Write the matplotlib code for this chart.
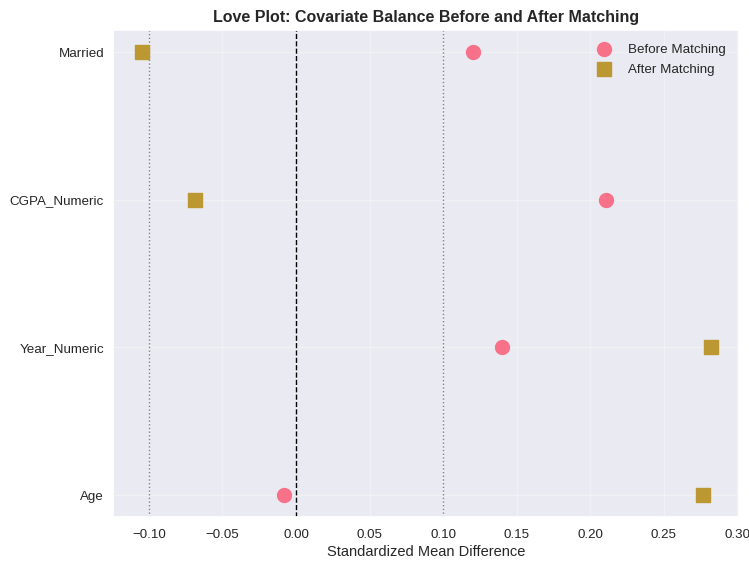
import matplotlib
matplotlib.use('Agg')
import matplotlib.pyplot as plt
import seaborn as sns
import numpy as np

# Standardized mean differences per covariate
covariates = ['Age', 'Year_Numeric', 'CGPA_Numeric', 'Married']
smd_before = [-0.008, 0.140, 0.211, 0.120]
smd_after = [0.277, 0.282, -0.069, -0.105]

sns.set_theme(style='darkgrid')
sns.set_palette('husl')
plt.rcParams['font.family'] = ['Liberation Sans', 'DejaVu Sans']

colors = sns.color_palette('husl')
fig, ax = plt.subplots(figsize=(7.49, 5.64), dpi=100)

y = np.arange(len(covariates))
ax.scatter(smd_before, y, s=100, marker='o', color=colors[0],
           label='Before Matching', zorder=3)
ax.scatter(smd_after, y, s=100, marker='s', color=colors[1],
           label='After Matching', zorder=3)

ax.axvline(0, color='black', linestyle='--', linewidth=1)
ax.axvline(0.1, color='gray', linestyle=':', linewidth=1)
ax.axvline(-0.1, color='gray', linestyle=':', linewidth=1)

ax.set_yticks(y)
ax.set_yticklabels(covariates, fontsize=9.6)
ax.tick_params(axis='x', labelsize=9.6, pad=2.5)
ax.tick_params(axis='y', pad=0.5)
ax.set_xlabel('Standardized Mean Difference', fontsize=10.5, labelpad=3)
ax.set_title('Love Plot: Covariate Balance Before and After Matching',
             fontweight='bold', fontsize=11.5)
ax.legend(loc='upper right', fontsize=9.6, frameon=False,
          borderaxespad=0.6, labelspacing=0.6)
ax.grid(True, alpha=0.3)

plt.subplots_adjust(left=0.151, right=0.987, top=0.947, bottom=0.083)
plt.savefig('out.png', dpi=100)
